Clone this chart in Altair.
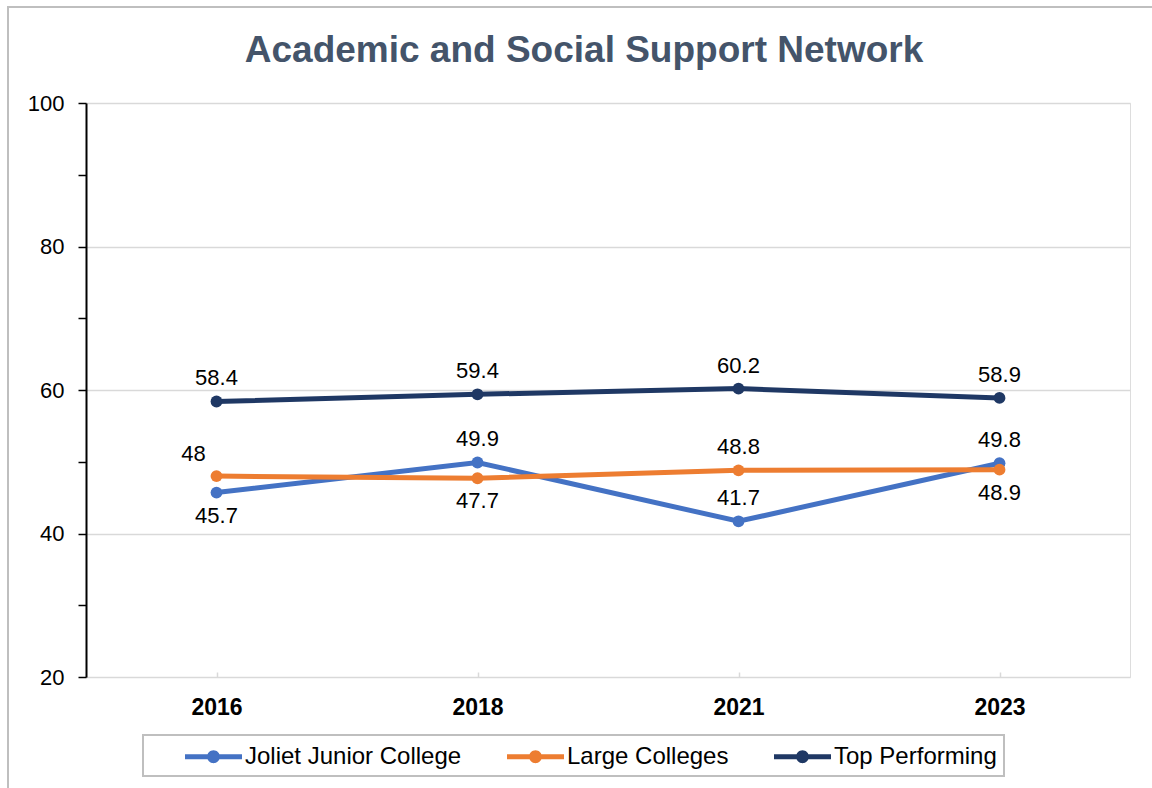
import altair as alt
import pandas as pd

FONT = "Liberation Sans"

years = ["2016", "2018", "2021", "2023"]
series_names = ["Joliet Junior College", "Large Colleges", "Top Performing"]
joliet = [45.7, 49.9, 41.7, 49.8]
large = [48.0, 47.7, 48.8, 48.9]
top = [58.4, 59.4, 60.2, 58.9]
joliet_label_pos = ["below", "above", "above", "above"]
large_label_pos = ["left", "below", "above", "below"]
top_label_pos = ["above", "above", "above", "above"]
colors = ["#4472C4", "#ED7D31", "#1F3864"]
y_ticks = [20, 30, 40, 50, 60, 70, 80, 90, 100]

rows = []
for name, vals, pos in zip(series_names, [joliet, large, top],
                           [joliet_label_pos, large_label_pos, top_label_pos]):
    for yr, v, p in zip(years, vals, pos):
        rows.append({"Year": yr, "Series": name, "Value": v, "Pos": p})
df = pd.DataFrame(rows)

x_enc = alt.X(
    "Year:N",
    sort=years,
    scale=alt.Scale(type="point", padding=0.5),
    axis=alt.Axis(
        title=None, labelAngle=0, labelFont=FONT, labelFontSize=23,
        labelFontWeight="bold", labelColor="black", labelPadding=19,
        domain=False, offset=-5, tickColor="#d9d9d9", tickSize=5, tickWidth=1.5,
        grid=False,
    ),
)
y_enc = alt.Y(
    "Value:Q",
    scale=alt.Scale(domain=[20, 100], nice=False, zero=False),
    axis=alt.Axis(
        title=None, values=y_ticks,
        labelExpr="datum.value % 20 == 0 ? datum.label : ''",
        labelFont=FONT, labelFontSize=22, labelColor="black", labelPadding=14,
        domainColor="black", domainWidth=2, tickColor="black", tickSize=8,
        tickWidth=1.5, gridColor="#d9d9d9", gridWidth=1.5,
        gridOpacity={"condition": {"test": "datum.value % 20 != 0", "value": 0}, "value": 1},
    ),
)

legend_symbol = (
    "M-2,-0.175 L2,-0.175 L2,0.175 L-2,0.175 Z "
    "M-0.45,0 A0.45,0.45 0 1,1 0.45,0 A0.45,0.45 0 1,1 -0.45,0 Z"
)

color_enc = alt.Color(
    "Series:N",
    scale=alt.Scale(domain=series_names, range=colors),
    legend=alt.Legend(
        title=None, orient="none", direction="horizontal",
        legendX=57, legendY=632,
        symbolType=legend_symbol, symbolSize=812, symbolStrokeWidth=0,
        symbolOffset=49, labelOffset=17, columnPadding=10, labelLimit=500,
        labelFont=FONT, labelFontSize=24, labelColor="black",
        padding=7, strokeColor="#bfbfbf", fillColor="white",
    ),
)

base = alt.Chart(df)

frame = alt.Chart(pd.DataFrame({"k": [0]})).mark_rect(
    fillOpacity=0, stroke="#bfbfbf", strokeWidth=2
).encode(
    x=alt.value(-78), x2=alt.value(1090), y=alt.value(-96), y2=alt.value(700)
)

lines = base.mark_line(
    strokeWidth=5,
    point=alt.OverlayMarkDef(filled=True, size=140, opacity=1),
).encode(x=x_enc, y=y_enc, color=color_enc)

def labels(pos, dx, dy):
    return base.transform_filter(alt.datum.Pos == pos).mark_text(
        font=FONT, fontSize=22, color="black", dx=dx, dy=dy,
        align="center", baseline="middle",
    ).encode(x=alt.X("Year:N", sort=years), y="Value:Q",
             text=alt.Text("Value:Q", format="~g"))

chart = alt.layer(
    frame, lines,
    labels("above", 0, -23), labels("below", 0, 23), labels("left", -23, -22),
).properties(
    width=1044, height=574,
    autosize=alt.AutoSizeParams(type="none"),
    padding={"left": 86, "top": 103, "right": 22, "bottom": 111},
    title=alt.TitleParams(
        text="Academic and Social Support Network", font=FONT, fontSize=37,
        fontWeight="bold", color="#44546A", anchor="middle", dx=-24, offset=-64,
    ),
).configure_view(stroke=None).configure(background="white").configure_legend(strokeWidth=2)

chart.save("out.html", embed_options={"renderer": "svg", "actions": False})
